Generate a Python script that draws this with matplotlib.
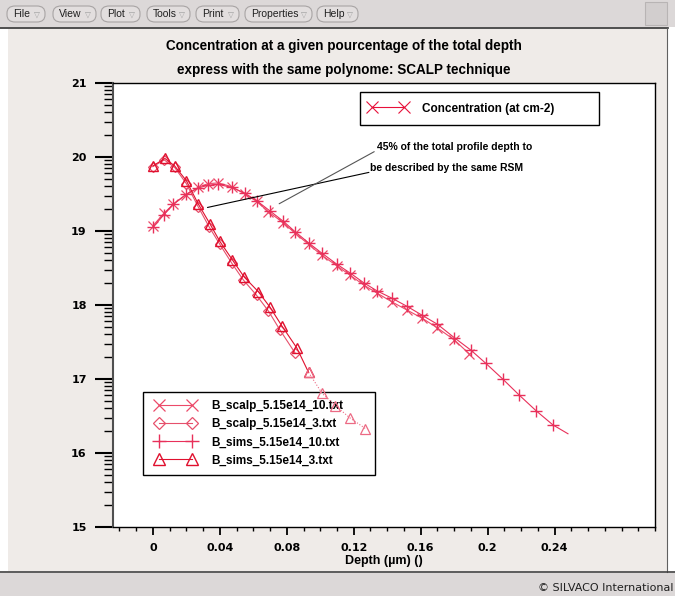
import matplotlib
matplotlib.use("Agg")
from matplotlib import pyplot as plt
from matplotlib.lines import Line2D
from matplotlib.patches import Rectangle, FancyBboxPatch
from matplotlib.legend_handler import HandlerLine2D
from matplotlib.ticker import MultipleLocator, FixedLocator, NullFormatter
import numpy as np

W, H = 675, 596

# --- data (depth in um, log10 concentration) ---
scalp10_x = [0, 0.0066, 0.0121, 0.020, 0.027, 0.033, 0.039, 0.047, 0.055, 0.062, 0.069,
             0.078, 0.085, 0.093, 0.101, 0.110, 0.118, 0.126, 0.134, 0.143, 0.152, 0.161,
             0.170, 0.180, 0.189]
scalp10_y = [19.07, 19.24, 19.36, 19.49, 19.59, 19.64, 19.65, 19.60, 19.50, 19.40, 19.26,
             19.11, 18.97, 18.82, 18.67, 18.53, 18.40, 18.27, 18.16, 18.04, 17.93, 17.82,
             17.69, 17.53, 17.34]

scalp3_x = [0, 0.0068, 0.013, 0.020, 0.027, 0.0335, 0.040, 0.047, 0.054, 0.062, 0.069,
            0.076, 0.085]
scalp3_y = [19.87, 19.96, 19.86, 19.64, 19.33, 19.06, 18.82, 18.57, 18.34, 18.13, 17.92,
            17.66, 17.35]

sims10_x = [0, 0.0066, 0.0121, 0.020, 0.027, 0.033, 0.039, 0.047, 0.055, 0.062, 0.070,
            0.078, 0.085, 0.093, 0.101, 0.110, 0.118, 0.126, 0.134, 0.143, 0.152, 0.161,
            0.170, 0.180, 0.190, 0.199, 0.209, 0.219, 0.229, 0.239, 0.248]
sims10_y = [19.05, 19.22, 19.36, 19.50, 19.58, 19.62, 19.63, 19.59, 19.51, 19.41, 19.27,
            19.13, 18.99, 18.84, 18.70, 18.55, 18.43, 18.30, 18.19, 18.09, 17.98, 17.86,
            17.74, 17.56, 17.39, 17.21, 17.00, 16.78, 16.57, 16.38, 16.26]

sims3_x = [0, 0.0072, 0.013, 0.020, 0.027, 0.034, 0.040, 0.0475, 0.0545, 0.063, 0.070,
           0.077, 0.086, 0.093, 0.101, 0.109, 0.118, 0.127]
sims3_y = [19.88, 19.98, 19.88, 19.68, 19.37, 19.10, 18.86, 18.61, 18.38, 18.18, 17.97,
           17.72, 17.42, 17.09, 16.81, 16.64, 16.47, 16.33]

labels = ["B_scalp_5.15e14_10.txt", "B_scalp_5.15e14_3.txt",
          "B_sims_5.15e14_10.txt", "B_sims_5.15e14_3.txt"]
menu_items = ["File", "View", "Plot", "Tools", "Print", "Properties", "Help"]
menu_x = [(7, 45), (53, 96), (101, 140), (147, 190), (196, 239), (245, 312), (317, 358)]

FONT = "Liberation Sans"
TICKFONT = "DejaVu Sans"
c_scalp10 = "#ec4a6a"
c_scalp3 = "#e6506c"
c_sims10 = "#e8305a"
c_sims3 = "#e0102e"


def fx(px):
    return px / W


def fy(py):
    return 1 - py / H


fig = plt.figure(figsize=(W / 100, H / 100), dpi=100)
fig.patch.set_facecolor("white")

# window chrome (drawn behind the axes)
fig.patches.append(Rectangle((0, fy(27)), 1, 27 / H, transform=fig.transFigure,
                             facecolor="#dcd8d8", edgecolor="none", zorder=-2))
fig.patches.append(Rectangle((fx(645), fy(25)), 22 / W, 23 / H, transform=fig.transFigure,
                             facecolor="#d2cece", edgecolor="#b8b4b4", lw=0.8, zorder=-1))
fig.patches.append(Rectangle((fx(8), fy(571)), 659 / W, 542 / H, transform=fig.transFigure,
                             facecolor="#efebe8", edgecolor="none", zorder=-2))
fig.lines.append(Line2D([0, fx(668)], [fy(28), fy(28)], transform=fig.transFigure,
                        color="#303030", lw=1.2, zorder=-1))
fig.lines.append(Line2D([fx(667), fx(667)], [fy(28), fy(572)], transform=fig.transFigure,
                        color="#606060", lw=0.8, zorder=-1))
fig.patches.append(Rectangle((0, 0), 1, (H - 573) / H, transform=fig.transFigure,
                             facecolor="#dcd8d8", edgecolor="none", zorder=-2))
fig.lines.append(Line2D([0, 1], [fy(572), fy(572)], transform=fig.transFigure,
                        color="#404040", lw=1.2, zorder=-1))
fig.text(fx(673), fy(588), "© SILVACO International", ha="right", va="center",
         fontsize=8, family="DejaVu Sans", color="#202020")

for name, (x0, x1) in zip(menu_items, menu_x):
    fig.patches.append(FancyBboxPatch((fx(x0), fy(22)), (x1 - x0) / W, 16 / H,
                                      boxstyle="round,pad=0,rounding_size=0.012",
                                      transform=fig.transFigure, facecolor="#e2dede",
                                      edgecolor="#a8a4a4", lw=0.8, zorder=-1))
    fig.text(fx(x0 + 6), fy(14), name, ha="left", va="center", fontsize=7.5,
             family=FONT, color="#202020")
    fig.text(fx(x1 - 5), fy(14), "▽", ha="right", va="center", fontsize=5.5,
             family="DejaVu Sans", color="#a0a0a0")

# titles
fig.text(fx(344), fy(46), "Concentration at a given pourcentage of the total depth",
         ha="center", va="center", fontsize=9.75, weight="bold", family=FONT)
fig.text(fx(344), fy(70), "express with the same polynome: SCALP technique",
         ha="center", va="center", fontsize=9.75, weight="bold", family=FONT)

# plot area
L, R, T, B = 112.7, 655, 83, 527
ax = fig.add_axes([fx(L), fy(B), (R - L) / W, (B - T) / H])
ax.set_zorder(5)
ax.set_facecolor("white")
ax.set_xlim(-0.024, 0.30)
ax.set_ylim(15, 21)

ms = 7
ax.plot(scalp10_x, scalp10_y, color=c_scalp10, lw=0.8, marker="x", ms=ms, mew=0.9,
        label=labels[0])
ax.plot(scalp3_x, scalp3_y, color=c_scalp3, lw=0.8, marker="D", ms=5.5, mew=0.9,
        mfc="none", label=labels[1])
ax.plot(sims10_x, sims10_y, color=c_sims10, lw=0.8, marker="+", ms=ms + 1, mew=1.0,
        markevery=slice(0, len(sims10_x) - 1), label=labels[2])
ax.plot(sims3_x[:14], sims3_y[:14], color=c_sims3, lw=0.8, marker="^", ms=ms, mew=1.0,
        mfc="none", label=labels[3])
ax.plot(sims3_x[13:], sims3_y[13:], color="#ec6a84", lw=0.8, ls=":", marker="^", ms=ms,
        mew=0.9, mfc="none")

# annotation
ax.annotate("", xy=(0.031, 19.31), xytext=(0.1307, 19.80),
            arrowprops=dict(arrowstyle="-", color="black", lw=0.8))
ax.annotate("", xy=(0.074, 19.35), xytext=(0.1337, 20.09),
            arrowprops=dict(arrowstyle="-", color="#555555", lw=0.8))
ax.text(0.1337, 20.135, "45% of the total profile depth to", fontsize=7.5, weight="bold",
        family=FONT, ha="left", va="center")
ax.text(0.1296, 19.85, "be described by the same RSM", fontsize=7.5, weight="bold",
        family=FONT, ha="left", va="center")

# ticks
ax.yaxis.set_major_locator(MultipleLocator(1))
minor_y = [d + np.log10(k) for d in range(15, 21) for k in range(2, 10)]
ax.yaxis.set_minor_locator(FixedLocator(minor_y))
ax.yaxis.set_minor_formatter(NullFormatter())
ax.xaxis.set_minor_locator(MultipleLocator(0.01))
ax.set_xticks([0, 0.04, 0.08, 0.12, 0.16, 0.2, 0.24])
ax.set_xticklabels(["0", "0.04", "0.08", "0.12", "0.16", "0.2", "0.24"])
ax.tick_params(axis="y", which="major", direction="out", length=12.7, width=1.5, pad=6,
               labelsize=8)
ax.tick_params(axis="y", which="minor", direction="out", length=6.5, width=1)
ax.tick_params(axis="x", which="major", direction="out", length=5.8, width=1.3, pad=6,
               labelsize=8)
ax.tick_params(axis="x", which="minor", direction="out", length=3, width=1)
for lab in ax.get_xticklabels() + ax.get_yticklabels():
    lab.set_fontweight("bold")
    lab.set_family(TICKFONT)
for sp in ax.spines.values():
    sp.set_color("black")
    sp.set_linewidth(1)
ax.spines["left"].set_color("#505050")
ax.spines["left"].set_linewidth(1.5)

ax.set_xlabel("Depth (µm) ()", fontsize=9, weight="bold", family=FONT, labelpad=1)

# legends
h_conc = Line2D([], [], color="#e8103a", lw=0.8, marker="x", ms=9, mew=0.8)
leg1 = ax.legend([h_conc], ["Concentration (at cm-2)"], loc="upper left",
                 bbox_to_anchor=(0.456, 0.98, 0.441, 0.0), mode="expand",
                 borderaxespad=0, numpoints=2, handlelength=2.9, handletextpad=1.45,
                 borderpad=0.9, fancybox=False, framealpha=1, edgecolor="black",
                 handler_map={Line2D: HandlerLine2D(marker_pad=0.1)},
                 prop=dict(family=FONT, weight="bold", size=8.5))
leg1.get_frame().set_linewidth(1)
ax.add_artist(leg1)

leg_handles = [
    Line2D([], [], color=c_scalp10, lw=0.8, marker="x", ms=9, mew=0.9),
    Line2D([], [], color=c_scalp3, lw=0.8, marker="D", ms=6, mew=0.9, mfc="none"),
    Line2D([], [], color=c_sims10, lw=0.8, marker="+", ms=10, mew=1.0),
    Line2D([], [], color=c_sims3, lw=0.8, marker="^", ms=8, mew=1.0, mfc="none"),
]
leg2 = ax.legend(leg_handles, labels, loc="upper left",
                 bbox_to_anchor=(0.0559, 0.305, 0.428, 0.0), mode="expand",
                 borderaxespad=0, numpoints=2, handlelength=4.1, handletextpad=0.95,
                 labelspacing=0.53, borderpad=0.7, fancybox=False, framealpha=1,
                 edgecolor="black",
                 handler_map={Line2D: HandlerLine2D(marker_pad=0.65)},
                 prop=dict(family=FONT, weight="bold", size=8.5))
leg2.get_frame().set_linewidth(1)
leg2.set_zorder(1)

fig.savefig("out.png", dpi=100)
